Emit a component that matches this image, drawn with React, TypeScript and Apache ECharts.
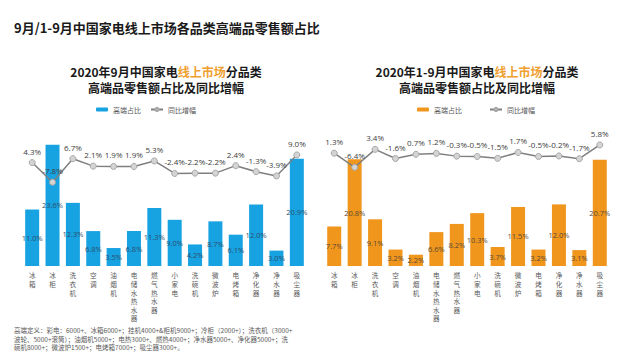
import React, { useEffect, useRef } from "react";
import * as echarts from "echarts";

const categories = ["冰箱", "冰柜", "洗衣机", "空调", "油烟机", "电储水热水器", "燃气热水器", "小家电", "洗碗机", "微波炉", "电烤箱", "净化器", "净水器", "吸尘器"];
const sepShare = [11.0, 23.6, 12.3, 6.8, 3.5, 6.8, 11.3, 9.0, 4.2, 8.7, 6.1, 12.0, 3.0, 20.9];
const sepYoY = [4.3, -7.8, 6.7, 2.1, 1.9, 1.9, 5.3, -2.4, -2.2, -2.2, 2.4, -1.3, -3.9, 9.0];
const ytdShare = [7.7, 20.8, 9.1, 3.2, 2.2, 6.6, 8.2, 10.3, 3.7, 11.5, 3.2, 12.0, 3.1, 20.7];
const ytdYoY = [1.3, -6.4, 3.4, -1.6, 0.7, 1.2, -0.3, -0.5, -1.5, 1.7, -0.5, -0.2, -1.7, 5.8];

const mainTitle = "9月/1-9月中国家电线上市场各品类高端品零售额占比";
const leftTitle = "{a|2020年9月中国家电}{b|线上市场}{a|分品类}\n{a|高端品零售额占比及同比增幅}";
const rightTitle = "{a|2020年1-9月中国家电}{b|线上市场}{a|分品类}\n{a|高端品零售额占比及同比增幅}";
const footnote =
  "高端定义：彩电：6000+、冰箱6000+；挂机4000+&柜机9000+；冷柜（2000+）；洗衣机（3000+\n波轮、5000+滚筒）；油烟机5000+；电热3000+、燃热4000+；净水器5000+、净化器5000+；洗\n碗机8000+；微波炉1500+；电烤箱7000+；吸尘器3000+。";

const FONT = '"Noto Sans CJK SC", "Noto Sans", sans-serif';
const BLUE = "#17a2e2";
const ORANGE = "#f0961c";

export default function App() {
  const ref = useRef<HTMLDivElement>(null);
  useEffect(() => {
    if (!ref.current) return;
    const chart = echarts.init(ref.current, null, { renderer: "svg" });
    const titleRich = {
      a: { fontSize: 12, fontWeight: "bold", color: "#1a1a1a", lineHeight: 16, fontFamily: FONT },
      b: { fontSize: 12, fontWeight: "bold", color: "#f0a030", lineHeight: 16, fontFamily: FONT },
    };
    const pct = (p: any) => Number(p.value).toFixed(1) + "%";
    const xAxisBase = {
      type: "category",
      data: categories,
      axisLine: { show: false },
      axisTick: { show: false },
      axisLabel: {
        interval: 0,
        margin: 5,
        fontSize: 6.6,
        lineHeight: 8.6,
        color: "#595959",
        fontFamily: FONT,
        formatter: (v: string) => v.split("").join("\n"),
      },
    };
    const hiddenY = (min: number, max: number, gridIndex: number) => ({
      type: "value",
      gridIndex,
      min,
      max,
      show: false,
      splitLine: { show: false },
    });
    const barSeries = (name: string, data: number[], idx: number, color: string, labelColor: string) => ({
      name,
      type: "bar",
      xAxisIndex: idx,
      yAxisIndex: idx * 2,
      data,
      barWidth: 14,
      itemStyle: { color },
      label: {
        show: true,
        position: "inside",
        formatter: pct,
        fontSize: 7.5,
        color: labelColor,
        fontFamily: '"Open Sans", sans-serif',
      },
    });
    const lineSeries = (name: string, data: number[], idx: number) => ({
      name,
      type: "line",
      xAxisIndex: idx,
      yAxisIndex: idx * 2 + 1,
      data,
      symbol: "circle",
      symbolSize: 6,
      lineStyle: { color: "#7f7f7f", width: 1.5 },
      itemStyle: { color: "#d4d4d4", borderColor: "#a6a6a6", borderWidth: 1 },
      label: {
        show: true,
        position: "top",
        distance: 4,
        formatter: pct,
        fontSize: 8,
        color: "#404040",
        fontFamily: '"Open Sans", sans-serif',
      },
      z: 5,
    });
    chart.setOption({
      animation: false,
      backgroundColor: "#ffffff",
      title: [
        {
          text: mainTitle,
          left: 14,
          top: 18,
          padding: 0,
          textStyle: { fontSize: 13, fontWeight: "bold", color: "#1a1a1a", fontFamily: FONT, lineHeight: 18 },
        },
        { text: leftTitle, left: 166, top: 63, padding: 0, textAlign: "center", textStyle: { rich: titleRich } },
        { text: rightTitle, left: 477, top: 63, padding: 0, textAlign: "center", textStyle: { rich: titleRich } },
        {
          text: footnote,
          left: 14,
          top: 326,
          padding: 0,
          textStyle: { fontSize: 6.5, fontWeight: "normal", color: "#595959", fontFamily: FONT, lineHeight: 8.5 },
        },
      ],
      graphic: [
        {
          type: "line",
          shape: { x1: 13, y1: 40, x2: 509, y2: 40 },
          style: {
            stroke: new echarts.graphic.LinearGradient(0, 0, 1, 0, [
              { offset: 0, color: "#2b5b87" },
              { offset: 1, color: "#5d86ad" },
            ]),
            lineWidth: 1.5,
          },
        },
      ],
      legend: [
        {
          left: 96,
          top: 106,
          padding: 0,
          itemWidth: 12,
          itemHeight: 4,
          itemGap: 9,
          data: ["L高端占比", "L同比增幅"],
          formatter: (n: string) => n.slice(1),
          textStyle: { fontSize: 7, color: "#595959", fontFamily: FONT },
          selectedMode: false,
        },
        {
          left: 417,
          top: 106,
          padding: 0,
          itemWidth: 12,
          itemHeight: 4,
          itemGap: 27,
          data: ["R高端占比", "R同比增幅"],
          formatter: (n: string) => n.slice(1),
          textStyle: { fontSize: 7, color: "#595959", fontFamily: FONT },
          selectedMode: false,
        },
      ],
      grid: [
        { left: 22, width: 285, top: 112, height: 154 },
        { left: 324, width: 286, top: 112, height: 154 },
      ],
      xAxis: [
        { ...xAxisBase, gridIndex: 0 },
        { ...xAxisBase, gridIndex: 1 },
      ],
      yAxis: [
        hiddenY(0, 30, 0),
        hiddenY(-59.3, 35.4, 0),
        hiddenY(0, 30, 1),
        hiddenY(-60.3, 23.8, 1),
      ],
      series: [
        barSeries("L高端占比", sepShare, 0, BLUE, "#2c4f6b"),
        lineSeries("L同比增幅", sepYoY, 0),
        barSeries("R高端占比", ytdShare, 1, ORANGE, "#5a4a38"),
        lineSeries("R同比增幅", ytdYoY, 1),
      ],
    });
    return () => chart.dispose();
  }, []);
  return (
    <div
      ref={ref}
      style={{ position: "fixed", left: 0, top: 0, width: 640, height: 360, background: "#fff" }}
    />
  );
}
